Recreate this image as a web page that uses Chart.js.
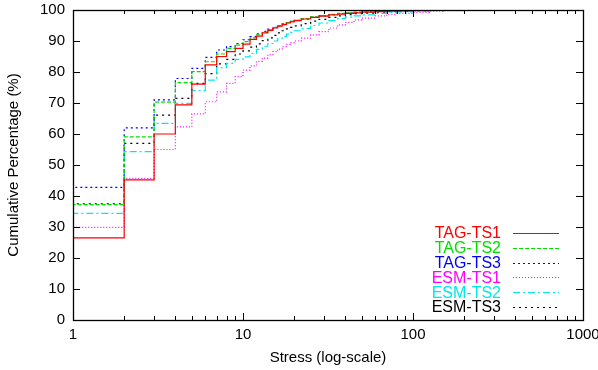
<!DOCTYPE html>
<html lang="en">
<head>
    <meta charset="UTF-8">
    <script src="https://cdn.jsdelivr.net/npm/chart.js@4.4.1/dist/chart.umd.min.js"></script>
    <title>Cumulative stress</title>
    <style>
        body { margin: 0; background: #fff; }
        #box { width: 598px; height: 370px; }
    </style>
</head>
<body>
    <div id="box"><canvas id="myChart"></canvas></div>

    <script>
// stress values (integer) - first point repeated so every curve rises from 0
const stress = [1, 1,2,3,4,5,6,7,8,9,10,11,12,13,14,15,16,17,18,19,20,22,25,28,32,36,40,45,50,60,70,80,100,125,150,200];

const tagTs1 = [0, 26.5,45.2,60.0,69.4,76.1,82.3,85.0,86.6,87.6,89.0,90.5,91.6,92.6,93.4,94.2,94.8,95.3,95.8,96.2,96.6,97.1,97.6,98.0,98.4,98.7,98.9,99.1,99.3,99.5,99.6,99.7,99.8,99.9,100,100];
const tagTs2 = [0, 37.2,59.1,70.3,76.6,80.1,83.3,85.8,87.6,88.7,89.8,91.0,92.0,92.8,93.6,94.3,94.9,95.4,95.9,96.3,96.7,97.2,97.8,98.2,98.6,98.9,99.1,99.3,99.4,99.6,99.7,99.8,99.9,100,100,100];
const tagTs3 = [0, 42.8,62.0,71.0,77.9,81.2,84.7,87.1,88.2,89.2,90.4,91.4,92.3,93.1,93.8,94.4,95.0,95.5,95.9,96.3,96.7,97.1,97.7,98.1,98.5,98.8,99.0,99.2,99.4,99.6,99.7,99.8,99.9,100,100,100];
const esmTs1 = [0, 29.9,45.7,55.0,62.3,66.5,70.4,73.6,76.3,78.5,80.6,82.0,83.4,84.5,85.6,86.6,87.4,88.2,88.9,89.5,90.0,90.9,92.0,93.0,94.2,95.2,96.0,96.8,97.4,98.1,98.6,98.9,99.2,99.6,99.8,100];
const esmTs2 = [0, 34.4,54.3,63.4,69.9,74.0,77.4,81.4,82.8,84.1,84.9,86.0,87.3,88.3,89.2,90.0,90.8,91.5,92.2,92.8,93.3,94.0,95.0,95.8,96.6,97.2,97.7,98.1,98.4,98.9,99.2,99.4,99.7,99.9,100,100];
const esmTs3 = [0, 37.5,57.0,66.1,71.5,76.3,79.5,82.6,84.1,85.8,86.8,88.0,89.1,90.1,91.0,91.8,92.6,93.3,93.9,94.4,94.9,95.6,96.4,97.0,97.6,98.1,98.5,98.8,99.0,99.3,99.5,99.6,99.8,99.9,100,100];

const seriesNames = ['TAG-TS1', 'TAG-TS2', 'TAG-TS3', 'ESM-TS1', 'ESM-TS2', 'ESM-TS3'];
const seriesValues = [tagTs1, tagTs2, tagTs3, esmTs1, esmTs2, esmTs3];
const colors = ['#ff0000', '#00e000', '#0000ff', '#ff00ff', '#00e8e8', '#000000'];
const dashes = [[], [4, 2], [2, 3], [1, 2], [7, 3, 2, 3], [2, 4]];

const xTickVals = [1, 10, 100, 1000];
const yTickVals = [0, 10, 20, 30, 40, 50, 60, 70, 80, 90, 100];

const FONT = '"Liberation Sans", Arial, Helvetica, sans-serif';

// gnuplot style frame with inward ticks on all four sides
const framePlugin = {
    id: 'frame',
    afterDatasetsDraw(chart) {
        const ctx = chart.ctx;
        const a = chart.chartArea;
        const xs = chart.scales.x, ys = chart.scales.y;
        ctx.save();
        ctx.strokeStyle = '#000';
        ctx.lineWidth = 1;
        ctx.setLineDash([]);
        ctx.beginPath();
        // x ticks (major + minor)
        for (let d = 1; d < 1000; d *= 10) {
            for (let m = 1; m <= 10; m++) {
                const v = d * m;
                const px = Math.round(xs.getPixelForValue(v)) + 0.5;
                const len = (m === 1 || m === 10) ? 7 : 4;
                ctx.moveTo(px, a.bottom);
                ctx.lineTo(px, a.bottom - len);
                ctx.moveTo(px, a.top);
                ctx.lineTo(px, a.top + len);
            }
        }
        yTickVals.forEach(v => {
            const py = Math.round(ys.getPixelForValue(v)) + 0.5;
            ctx.moveTo(a.left, py);
            ctx.lineTo(a.left + 7, py);
            ctx.moveTo(a.right, py);
            ctx.lineTo(a.right - 7, py);
        });
        ctx.stroke();
        ctx.lineWidth = 1.3;
        ctx.strokeRect(Math.round(a.left) + 0.5, Math.round(a.top) + 0.5,
                       Math.round(a.right - a.left), Math.round(a.bottom - a.top));
        ctx.restore();
    },
    afterDraw(chart) {
        // key in the bottom right corner: label then line sample
        const ctx = chart.ctx;
        const a = chart.chartArea;
        ctx.save();
        ctx.font = '16px ' + FONT;
        ctx.textAlign = 'right';
        ctx.textBaseline = 'middle';
        chart.data.datasets.forEach((ds, i) => {
            const y = a.bottom - 87 + i * 14.8;
            ctx.fillStyle = ds.borderColor;
            ctx.fillText(ds.label, a.right - 82, y + 1);
            ctx.strokeStyle = ds.borderColor;
            ctx.lineWidth = 1.2;
            ctx.setLineDash(ds.borderDash);
            ctx.beginPath();
            ctx.moveTo(a.right - 70, Math.round(y) + 0.5);
            ctx.lineTo(a.right - 24, Math.round(y) + 0.5);
            ctx.stroke();
        });
        ctx.restore();
    }
};

// keep the plot box where the reference has it, ignoring label overhang
function noOverhang(s) {
    s.paddingTop = 0;
    s.paddingBottom = 0;
    s.paddingLeft = 0;
    s.paddingRight = 0;
}

const datasets = seriesNames.map((name, i) => ({
    label: name,
    data: stress.map((s, j) => ({ x: s, y: seriesValues[i][j] })),
    borderColor: colors[i],
    borderDash: dashes[i],
    borderWidth: 1.2,
    stepped: 'before',
    pointRadius: 0,
    fill: false
}));

new Chart(document.getElementById('myChart'), {
    type: 'line',
    data: { datasets },
    plugins: [framePlugin],
    options: {
        responsive: true,
        maintainAspectRatio: false,
        animation: false,
        layout: { padding: { top: 10, right: 15, left: 0, bottom: 0 } },
        plugins: { legend: { display: false }, tooltip: { enabled: false } },
        scales: {
            x: {
                type: 'logarithmic',
                min: 1,
                max: 1000,
                grid: { display: false, drawTicks: false },
                border: { display: false },
                afterBuildTicks: s => { s.ticks = xTickVals.map(v => ({ value: v })); },
                afterFit: s => { s.height = 50; noOverhang(s); },
                ticks: {
                    color: '#000',
                    font: { family: FONT, size: 15 },
                    padding: 6,
                    maxRotation: 0,
                    autoSkip: false,
                    callback: v => String(v)
                },
                title: {
                    display: true,
                    text: 'Stress (log-scale)',
                    color: '#000',
                    font: { family: FONT, size: 15 },
                    padding: { top: 0, bottom: 3 }
                }
            },
            y: {
                min: 0,
                max: 100,
                grid: { display: false, drawTicks: false },
                border: { display: false },
                afterBuildTicks: s => { s.ticks = yTickVals.map(v => ({ value: v })); },
                afterFit: s => { s.width = 73; noOverhang(s); },
                ticks: {
                    color: '#000',
                    font: { family: FONT, size: 15 },
                    padding: 8
                },
                title: {
                    display: true,
                    text: 'Cumulative Percentage (%)',
                    color: '#000',
                    font: { family: FONT, size: 15 },
                    padding: { top: 5, bottom: 0 }
                }
            }
        }
    }
});
    </script>
</body>
</html>
